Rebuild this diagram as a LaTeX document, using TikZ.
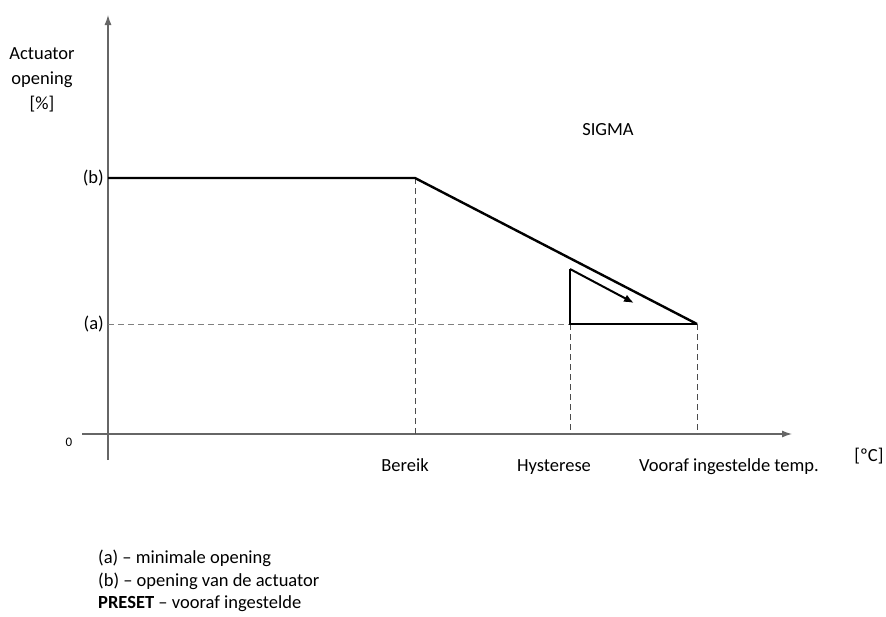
\documentclass[tikz,border=0pt]{standalone}
\usepackage{fontspec}
\setmainfont{Carlito}
\usepackage{tikz}
\usetikzlibrary{arrows.meta,positioning,calc}

\begin{document}
\begin{tikzpicture}[x=1pt, y=-1pt, every node/.style={font=\fontsize{18.5}{22}\selectfont, inner sep=0pt}, >=Latex]
\useasboundingbox (0,0) rectangle (886,616);
% axes
\coordinate (ytop) at (108,15);
\coordinate (ybot) at (108,460);
\coordinate (xl) at (82,434);
\coordinate (xr) at (792,434);
\draw[gray!80!black, line width=1.2pt, -{Latex[length=10pt,width=7pt]}] (ybot) -- (ytop);
\draw[gray!80!black, line width=1.2pt, -{Latex[length=10pt,width=7pt]}] (xl) -- (xr);
% curve points
\coordinate (b0) at (108,178);
\coordinate (br) at (415,178);
\coordinate (pre) at (697,324);
\coordinate (a0) at (108,324);
\coordinate (hy) at (570,324);
\coordinate (hytop) at (570,269);
\coordinate (arr) at (634,303);
\coordinate (brx) at (415,434);
\coordinate (hyx) at (570,434);
\coordinate (prex) at (697,434);
% dashed guides
\draw[gray, line width=0.8pt, dash pattern=on 6pt off 4pt] (a0) -- (hy);
\draw[gray!60!black, line width=0.8pt, dash pattern=on 6pt off 4pt] (br) -- (brx);
\draw[gray!60!black, line width=0.8pt, dash pattern=on 6pt off 4pt] (hy) -- (hyx);
\draw[gray!60!black, line width=0.8pt, dash pattern=on 6pt off 4pt] (pre) -- (prex);
% characteristic
\draw[line width=2.4pt] (b0) -- (br) -- (pre);
\draw[line width=2.4pt] (hytop) -- (hy) -- (pre);
\draw[line width=2pt, -{Latex[length=10pt,width=8pt]}] (hytop) -- (arr);
% labels
\node[align=center] (ylab) at (42,80) {Actuator\\[3pt]opening\\[3pt][\%]};
\node[left=4pt of b0] (lb) {(b)};
\node[left=4pt of a0] (la) {(a)};
\node[font=\fontsize{13}{15}\selectfont] (zero) at (69,442) {0};
\node (sigma) at (608,130) {SIGMA};
\node[anchor=base] (bereik) at (405,471) {Bereik};
\node[anchor=base] (hyst) at (554,471) {Hysterese};
\node[anchor=base] (preset) at (729,471) {Vooraf ingestelde temp.};
\node[anchor=base] (unit) at (869,461) {[ºC]};
% legend
\node[anchor=base west] (leg1) at (98,563) {(a) -- minimale opening};
\node[anchor=base west] (leg2) at (98,586) {(b) -- opening van de actuator};
\node[anchor=base west] (leg3) at (98,608) {\textbf{PRESET} -- vooraf ingestelde};
\end{tikzpicture}
\end{document}
